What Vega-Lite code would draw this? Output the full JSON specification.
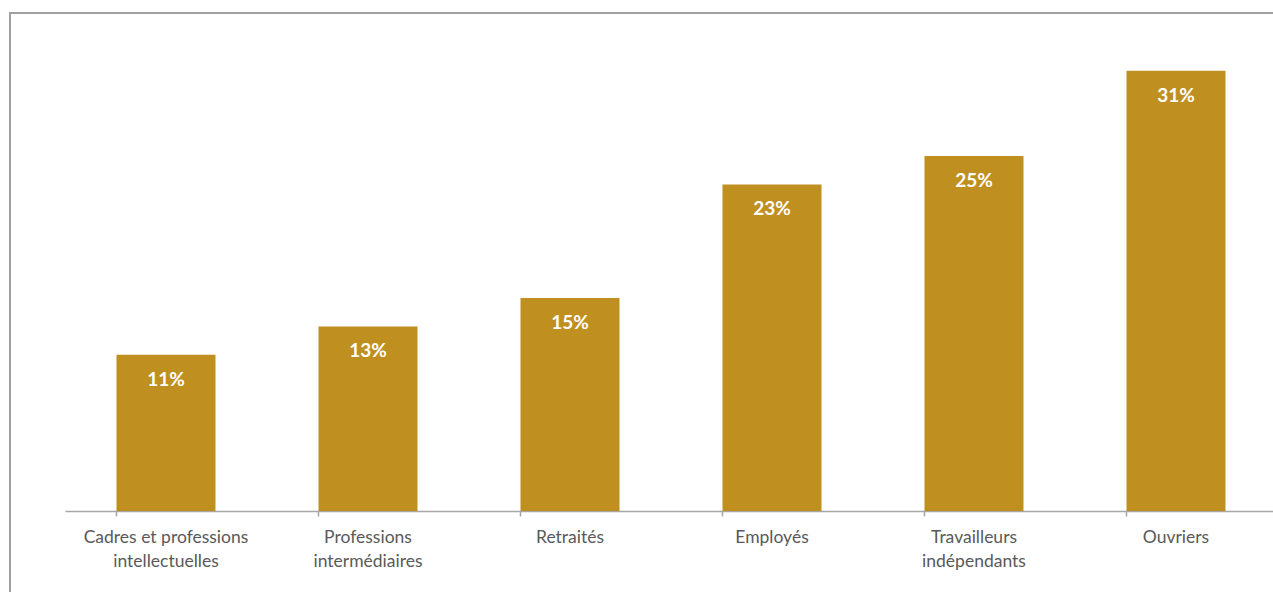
{
  "$schema": "https://vega.github.io/schema/vega-lite/v6.json",
  "autosize": "none",
  "padding": {"left": 10, "top": 13, "right": 0, "bottom": 0},
  "width": 1263,
  "height": 579,
  "background": "white",
  "config": {
    "view": {"stroke": "#A0A0A0", "strokeWidth": 2, "strokeDash": [1263, 1842, 579]},
    "font": "Lato"
  },
  "data": {
    "values": [
      {"categorie": "Cadres et professions\nintellectuelles", "part": 0.11},
      {"categorie": "Professions\nintermédiaires", "part": 0.13},
      {"categorie": "Retraités", "part": 0.15},
      {"categorie": "Employés", "part": 0.23},
      {"categorie": "Travailleurs\nindépendants", "part": 0.25},
      {"categorie": "Ouvriers", "part": 0.31}
    ]
  },
  "encoding": {
    "x": {
      "field": "categorie",
      "type": "nominal",
      "sort": null,
      "scale": {"range": [55, 1267], "paddingInner": 0.51, "paddingOuter": 0.255},
      "axis": {
        "title": null,
        "labelAngle": 0,
        "labelExpr": "split(datum.label, '\\n')",
        "labelFont": "Lato",
        "labelFontSize": 17.5,
        "labelColor": "#595959",
        "labelLineHeight": 24,
        "labelPadding": 12,
        "domainColor": "#A6A6A6",
        "domainWidth": 1.5,
        "tickColor": "#A6A6A6",
        "tickWidth": 1.5,
        "tickSize": 5,
        "bandPosition": 0,
        "offset": -81
      }
    },
    "y": {
      "field": "part",
      "type": "quantitative",
      "scale": {"domain": [0, 0.35], "range": [498, 1]},
      "axis": null
    }
  },
  "layer": [
    {"mark": {"type": "bar", "color": "#BF8F20"}},
    {
      "mark": {
        "type": "text",
        "color": "white",
        "font": "Lato",
        "fontWeight": "bold",
        "fontSize": 19,
        "baseline": "alphabetic",
        "dy": 31
      },
      "encoding": {"text": {"field": "part", "type": "quantitative", "format": ".0%"}}
    }
  ]
}
